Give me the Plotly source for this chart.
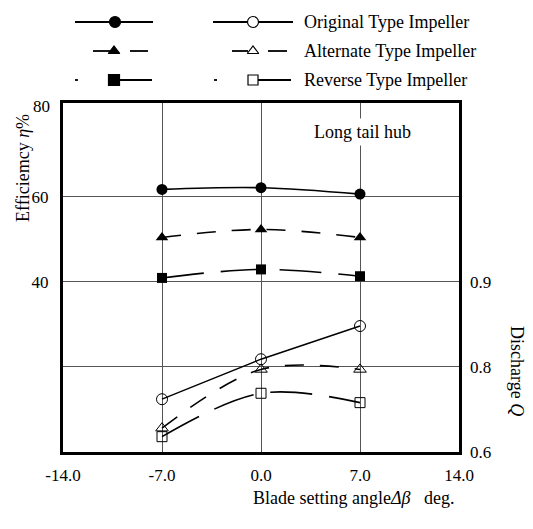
import plotly.graph_objects as go

# ---------------- data ----------------
angles = [-7.0, 0.0, 7.0]
x_ticks = [-14.0, -7.0, 0.0, 7.0, 14.0]
x_tick_labels = ["-14.0", "-7.0", "0.0", "7.0", "14.0"]

# efficiency (left axis, %)
eff_original = [61.7, 62.1, 60.6]
eff_alternate = [50.4, 52.3, 50.4]
eff_reverse = [40.9, 42.9, 41.3]

# discharge (right axis, as placed on the chart's right scale)
q_original = [0.762, 0.809, 0.848]
q_alternate = [0.728, 0.797, 0.797]
q_reverse = [0.718, 0.769, 0.758]

left_tick_vals = [20, 40, 60]
left_tick_text = ["", "40", "60"]
right_tick_vals = [0.7, 0.8, 0.9]
right_tick_text = ["0.6", "0.8", "0.9"]

series_names = ["Original Type Impeller", "Alternate Type Impeller", "Reverse Type Impeller"]

FONT = "Liberation Serif, Times New Roman, serif"
W, H = 533, 529
ML, MR, MT, MB = 63, 74, 0, 77
PW, PH = W - ML - MR, H - MT - MB
PLOT_TOP = 103
main_top = (PH - PLOT_TOP) / PH

fig = go.Figure()

dash_a = "19px,16px"
dash_b = "42px,17px"

# efficiency series
fig.add_trace(go.Scatter(x=angles, y=eff_original, mode="lines+markers",
                         line=dict(color="black", width=1.6, shape="spline"),
                         marker=dict(symbol="circle", size=11, color="black"),
                         xaxis="x", yaxis="y", showlegend=False))
fig.add_trace(go.Scatter(x=angles, y=eff_alternate, mode="lines+markers",
                         line=dict(color="black", width=1.6, shape="spline", dash=dash_a),
                         marker=dict(symbol="triangle-up", size=11, color="black"),
                         xaxis="x", yaxis="y", showlegend=False))
fig.add_trace(go.Scatter(x=angles, y=eff_reverse, mode="lines+markers",
                         line=dict(color="black", width=1.6, shape="spline", dash=dash_b),
                         marker=dict(symbol="square", size=10, color="black"),
                         xaxis="x", yaxis="y", showlegend=False))

# discharge series
fig.add_trace(go.Scatter(x=angles, y=q_original, mode="lines+markers",
                         line=dict(color="black", width=1.4),
                         marker=dict(symbol="circle-open", size=11, color="black", line=dict(width=1)),
                         xaxis="x", yaxis="y2", showlegend=False))
fig.add_trace(go.Scatter(x=angles, y=q_alternate, mode="lines+markers",
                         line=dict(color="black", width=1.6, shape="spline", dash=dash_a),
                         marker=dict(symbol="triangle-up-open", size=11, color="black", line=dict(width=1)),
                         xaxis="x", yaxis="y2", showlegend=False))
fig.add_trace(go.Scatter(x=angles, y=q_reverse, mode="lines+markers",
                         line=dict(color="black", width=1.6, shape="spline", dash=dash_b),
                         marker=dict(symbol="square-open", size=10, color="black", line=dict(width=1)),
                         xaxis="x", yaxis="y2", showlegend=False))

# ---------------- custom legend (pixel axis in top strip) ----------------
leg_rows = [22, 51, 80]

def seg(x0, x1, y, width=1.8):
    fig.add_trace(go.Scatter(x=[x0, x1], y=[y, y], mode="lines",
                             line=dict(color="black", width=width),
                             xaxis="x3", yaxis="y3", showlegend=False, hoverinfo="skip"))

def mk(x, y, symbol, size):
    fig.add_trace(go.Scatter(x=[x], y=[y], mode="markers",
                             marker=dict(symbol=symbol, size=size, color="black",
                                         line=dict(width=1.2, color="black")),
                             xaxis="x3", yaxis="y3", showlegend=False, hoverinfo="skip"))

# row 1
seg(75, 153, leg_rows[0]); mk(115, leg_rows[0], "circle", 11)
seg(213, 248, leg_rows[0]); seg(258, 293, leg_rows[0]); mk(253, leg_rows[0], "circle-open", 11)
# row 2
seg(93, 112, leg_rows[1]); seg(130, 148, leg_rows[1]); mk(114, leg_rows[1], "triangle-up", 10)
seg(232, 248, leg_rows[1]); seg(268, 287, leg_rows[1]); mk(253, leg_rows[1], "triangle-up-open", 10)
# row 3
seg(75, 78, leg_rows[2]); seg(115, 152, leg_rows[2]); mk(114, leg_rows[2], "square", 11)
seg(214, 217, leg_rows[2]); seg(258, 291, leg_rows[2]); mk(253, leg_rows[2], "square-open", 10)

ann = []
for name, y in zip(series_names, leg_rows):
    ann.append(dict(x=302, y=y, xref="x3", yref="y3", text=name, showarrow=False,
                    xanchor="left", yanchor="middle", font=dict(family=FONT, size=18, color="black")))

def px_x(px):
    return (px - ML) / PW

def px_y(py):
    return (PH - (py - MT)) / PH

ann += [
    dict(x=px_x(415), y=px_y(132), xref="paper", yref="paper", text="Long tail hub",
         showarrow=False, xanchor="right", yanchor="middle", bgcolor="white", borderpad=3,
         font=dict(family=FONT, size=18, color="black")),
    dict(x=px_x(52), y=px_y(106), xref="paper", yref="paper", text="80",
         showarrow=False, xanchor="right", yanchor="middle", font=dict(family=FONT, size=17, color="black")),
    dict(x=px_x(23), y=px_y(168), xref="paper", yref="paper", text="Efficiemcy <i>η</i>%",
         showarrow=False, textangle=-90, xanchor="center", yanchor="middle",
         font=dict(family=FONT, size=18, color="black")),
    dict(x=px_x(517), y=px_y(371), xref="paper", yref="paper", text="Discharge <i>Q</i>",
         showarrow=False, textangle=90, xanchor="center", yanchor="middle",
         font=dict(family=FONT, size=18, color="black")),
    dict(x=px_x(457), y=px_y(498), xref="paper", yref="paper",
         text="Blade setting angle<i>Δβ</i>   deg.",
         showarrow=False, xanchor="right", yanchor="middle", font=dict(family=FONT, size=18, color="black")),
]

fig.update_layout(
    width=W, height=H,
    margin=dict(l=ML, r=MR, t=MT, b=MB, pad=0),
    paper_bgcolor="white", plot_bgcolor="white",
    font=dict(family=FONT, size=17, color="black"),
    showlegend=False,
    annotations=ann,
    xaxis=dict(range=[-14, 14], tickvals=x_ticks, ticktext=x_tick_labels,
               showgrid=True, gridcolor="#555", gridwidth=1, zeroline=False,
               showline=True, linecolor="black", linewidth=3, mirror=True,
               ticks="", ticklabelstandoff=6, anchor="y",
               tickfont=dict(family=FONT, size=17, color="black")),
    yaxis=dict(range=[0, 82], domain=[0, main_top], tickvals=left_tick_vals,
               ticktext=left_tick_text,
               showgrid=True, gridcolor="#555", gridwidth=1, zeroline=False,
               showline=True, linecolor="black", linewidth=3, mirror=True,
               ticks="", ticklabelstandoff=8,
               tickfont=dict(family=FONT, size=17, color="black")),
    yaxis2=dict(range=[0.7, 1.110], overlaying="y", side="right", anchor="x",
                tickvals=right_tick_vals, ticktext=right_tick_text,
                showgrid=False, zeroline=False, showline=False, ticks="",
                ticklabelstandoff=10,
                tickfont=dict(family=FONT, size=17, color="black")),
    xaxis3=dict(range=[ML, W - MR], domain=[0, 1], anchor="y3", visible=False, fixedrange=True),
    yaxis3=dict(range=[PLOT_TOP, 0], domain=[main_top, 1], anchor="x3", visible=False, fixedrange=True),
)

fig.write_html("out.html")
